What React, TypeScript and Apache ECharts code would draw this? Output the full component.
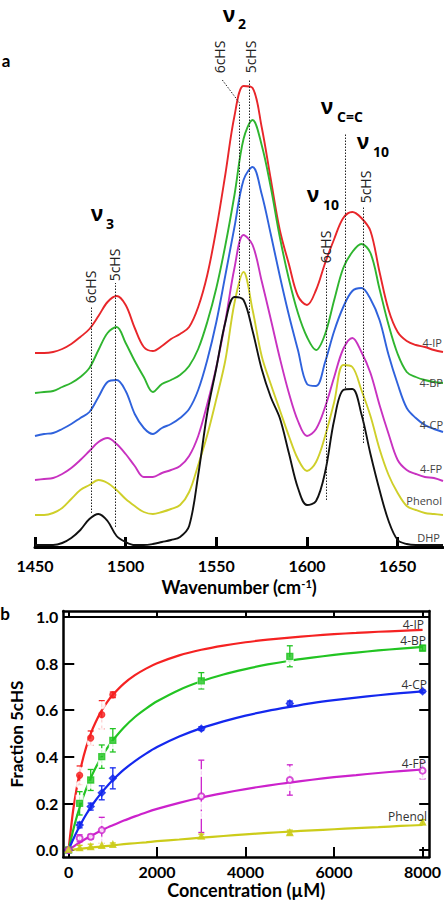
import React, { useEffect, useRef } from 'react';
import * as echarts from 'echarts';

// ---------- Panel a: resonance Raman spectra (offset, arbitrary units) ----------
const wavenumbers = [
  1450, 1455, 1460, 1465, 1470, 1475, 1480, 1485, 1490, 1495,
  1500, 1505, 1510, 1515, 1520, 1525, 1530, 1535, 1540, 1545,
  1550, 1555, 1560, 1565, 1570, 1575, 1580, 1585, 1590, 1595,
  1600, 1605, 1610, 1615, 1620, 1625, 1630, 1635, 1640, 1645,
  1650, 1655, 1660, 1665, 1670, 1675,
];
const spec4IP = [
  194, 194, 195, 198, 203, 210, 218, 231, 245, 251,
  242, 219, 200, 196, 201, 208, 213, 220, 240, 272,
  318, 373, 431, 461, 459, 420, 368, 317, 283, 251,
  242, 257, 284, 308, 329, 335, 329, 316, 275, 237,
  215, 206, 202, 200, 197, 195,
];
const spec4BP = [
  154, 155, 156, 160, 164, 170, 179, 197, 214, 220,
  204, 186, 170, 155, 163, 167, 172, 181, 198, 225,
  259, 302, 352, 408, 427, 402, 360, 310, 268, 234,
  210, 197, 213, 247, 279, 295, 303, 294, 258, 222,
  193, 175, 170, 167, 165, 164,
];
const spec4CP = [
  111, 113, 114, 118, 123, 129, 135, 150, 165, 167,
  156, 133, 119, 113, 119, 123, 129, 138, 157, 187,
  225, 272, 320, 367, 380, 353, 313, 271, 232, 197,
  163, 161, 185, 216, 240, 256, 259, 248, 227, 192,
  163, 139, 129, 122, 118, 115,
];
const spec4FP = [
  67, 68, 69, 73, 79, 87, 96, 105, 109, 103,
  93, 81, 70, 70, 74, 77, 81, 91, 111, 143,
  180, 226, 279, 312, 302, 266, 228, 189, 154, 126,
  111, 118, 140, 170, 198, 209, 195, 174, 142, 113,
  87, 77, 73, 70, 69, 66,
];
const specPhenol = [
  32, 32, 34, 39, 48, 57, 62, 67, 64, 57,
  48, 41, 35, 33, 35, 38, 42, 55, 82, 112,
  148, 187, 244, 275, 237, 191, 163, 137, 111, 88,
  76, 85, 111, 145, 182, 180, 157, 131, 98, 72,
  54, 41, 37, 34, 33, 32,
];
const specDHP = [
  2, 2, 2, 4, 9, 17, 28, 33, 26, 11,
  5, 2, 2, 3, 5, 7, 10, 21, 72, 134,
  179, 225, 250, 247, 216, 178, 150, 129, 94, 59,
  42, 46, 75, 127, 157, 158, 133, 93, 57, 26,
  7, 3, 2, 2, 2, 2,
];
const specNames = ['4-IP', '4-BP', '4-CP', '4-FP', 'Phenol', 'DHP'];
const specColors = ['#e8262a', '#2fb52f', '#2f62dc', '#c832c0', '#cfcf2a', '#111111'];
const wnTicks = [1450, 1500, 1550, 1600, 1650];

// dotted marker lines: [wavenumber, from, to]
const bandLines = [
  [1481, 34, 240],
  [1494, 20, 264],
  [1562.8, 252, 444],
  [1568.2, 234, 467],
  [1610.8, 47, 279],
  [1621.3, 159, 414],
  [1631.2, 104, 340],
];

// ---------- Panel b: titration (fraction 5cHS vs concentration) ----------
const concTicks = [0, 2000, 4000, 6000, 8000];
const fracTicks = [0, 0.2, 0.4, 0.6, 0.8, 1.0];
const fitConc = [0, 100, 200, 300, 400, 500, 600, 750, 900, 1000, 1250, 1500, 1750, 2000, 2500, 3000, 3500, 4000, 4500, 5000, 5500, 6000, 6500, 7000, 7500, 8000];
const fit4IP = [0, 0.165, 0.283, 0.372, 0.442, 0.498, 0.543, 0.598, 0.641, 0.665, 0.713, 0.749, 0.777, 0.8, 0.834, 0.858, 0.876, 0.89, 0.901, 0.91, 0.918, 0.925, 0.93, 0.935, 0.939, 0.943];
const fit4BP = [0, 0.082, 0.152, 0.211, 0.263, 0.308, 0.348, 0.4, 0.444, 0.47, 0.525, 0.57, 0.606, 0.637, 0.686, 0.723, 0.752, 0.775, 0.795, 0.811, 0.824, 0.836, 0.846, 0.855, 0.863, 0.87];
const fit4CP = [0, 0.044, 0.084, 0.12, 0.153, 0.183, 0.21, 0.247, 0.28, 0.3, 0.344, 0.381, 0.413, 0.441, 0.486, 0.522, 0.551, 0.576, 0.596, 0.613, 0.629, 0.642, 0.653, 0.663, 0.672, 0.68];
const fit4FP = [0, 0.013, 0.026, 0.037, 0.049, 0.059, 0.07, 0.084, 0.098, 0.106, 0.126, 0.144, 0.161, 0.176, 0.202, 0.225, 0.244, 0.261, 0.276, 0.289, 0.301, 0.312, 0.321, 0.33, 0.338, 0.345];
const fitPhenol = [0, 0.002, 0.004, 0.006, 0.008, 0.01, 0.012, 0.015, 0.018, 0.02, 0.025, 0.029, 0.033, 0.038, 0.045, 0.053, 0.06, 0.067, 0.073, 0.079, 0.084, 0.089, 0.094, 0.098, 0.103, 0.107];

// [concentration, mean, error]
const pts4IP = [[0, 0, 0.01], [250, 0.32, 0.04], [500, 0.48, 0.03], [750, 0.58, 0.06], [1000, 0.665, 0.012]];
const pts4BP = [[0, 0, 0.01], [250, 0.2, 0.05], [500, 0.3, 0.045], [750, 0.4, 0.05], [1000, 0.47, 0.05], [3000, 0.725, 0.035], [5000, 0.83, 0.045], [8000, 0.865, 0.012]];
const pts4CP = [[0, 0, 0.006], [250, 0.107, 0.012], [500, 0.186, 0.015], [750, 0.245, 0.03], [1000, 0.307, 0.045], [3000, 0.52, 0.008], [5000, 0.628, 0.01], [8000, 0.68, 0.006]];
const pts4FP = [[0, 0, 0.006], [250, 0.05, 0.015], [500, 0.057, 0.01], [750, 0.085, 0.055], [3000, 0.23, 0.155], [5000, 0.3, 0.065], [8000, 0.34, 0.035]];
const ptsPhenol = [[0, 0.003, 0.006], [250, 0.01, 0.01], [500, 0.015, 0.01], [750, 0.02, 0.01], [1000, 0.024, 0.006], [3000, 0.06, 0.008], [5000, 0.075, 0.01], [8000, 0.12, 0.01]];
// individual replicate measurements (open symbols)
const reps4IP = [[250, 0.34], [250, 0.28], [500, 0.46], [750, 0.62], [750, 0.55], [750, 0.53]];
const reps4BP = [[250, 0.22], [500, 0.28], [750, 0.38], [750, 0.42], [1000, 0.45], [3000, 0.71], [5000, 0.81]];
const reps4FP = [[750, 0.12], [750, 0.04], [3000, 0.33], [3000, 0.19], [3000, 0.15], [5000, 0.34], [5000, 0.32], [5000, 0.27], [8000, 0.36], [8000, 0.32]];
const titColors = ['#f52222', '#22c422', '#1428ee', '#cc22cc', '#cccc1a'];

const BOLD = 'Lato';
const SANS = 'Open Sans';

export default function App() {
  const ref = useRef<HTMLDivElement>(null);
  useEffect(() => {
    const chart = echarts.init(ref.current!, null, { renderer: 'svg' });
    const specs = [spec4IP, spec4BP, spec4CP, spec4FP, specPhenol, specDHP];

    const specSeries: any[] = specs.map((s, i) => ({
      type: 'line',
      name: specNames[i],
      xAxisIndex: 0,
      yAxisIndex: 0,
      data: wavenumbers.map((w, j) => [w, s[j]]),
      smooth: 0.35,
      showSymbol: false,
      symbol: 'none',
      lineStyle: { color: specColors[i], width: 1.9 },
      z: 3,
      silent: true,
    }));
    specSeries.push({
      type: 'line',
      xAxisIndex: 0,
      yAxisIndex: 0,
      data: [],
      silent: true,
      markLine: {
        silent: true,
        symbol: 'none',
        label: { show: false },
        lineStyle: { color: '#222', type: [1.5, 1.5], width: 1 },
        data: [
          ...bandLines.map((b) => [{ coord: [b[0], b[1]] }, { coord: [b[0], b[2]] }]),
          [{ coord: [1553.3, 467] }, { coord: [1562.8, 444] }],
        ],
      },
    });

    const errSeries = (pts: number[][], color: string) => ({
      type: 'custom',
      xAxisIndex: 1,
      yAxisIndex: 1,
      data: pts,
      silent: true,
      z: 4,
      renderItem: (params: any, api: any) => {
        const x = api.value(0), y = api.value(1), e = api.value(2);
        const t = api.coord([x, y + e]);
        const b = api.coord([x, y - e]);
        const w = 3;
        const st = { stroke: color, lineWidth: 1.3 };
        return {
          type: 'group',
          children: [
            { type: 'line', shape: { x1: t[0], y1: t[1], x2: b[0], y2: b[1] }, style: st },
            { type: 'line', shape: { x1: t[0] - w, y1: t[1], x2: t[0] + w, y2: t[1] }, style: st },
            { type: 'line', shape: { x1: b[0] - w, y1: b[1], x2: b[0] + w, y2: b[1] }, style: st },
          ],
        };
      },
    });
    const fits = [fit4IP, fit4BP, fit4CP, fit4FP, fitPhenol];
    const fitSeries = fits.map((f, i) => ({
      type: 'line',
      xAxisIndex: 1,
      yAxisIndex: 1,
      data: fitConc.map((c, j) => [c, f[j]]),
      smooth: 0.25,
      showSymbol: false,
      symbol: 'none',
      lineStyle: { color: titColors[i], width: 2.2 },
      silent: true,
      z: 3,
    }));
    const ptsAll = [pts4IP, pts4BP, pts4CP, pts4FP, ptsPhenol];
    const syms = ['circle', 'rect', 'diamond', 'emptyCircle', 'triangle'];
    const sizes = [6, 6, 7, 6, 6];
    const meanSeries = ptsAll.map((p, i) => ({
      type: 'scatter',
      xAxisIndex: 1,
      yAxisIndex: 1,
      data: p.map((d) => [d[0], d[1]]),
      symbol: syms[i],
      symbolSize: sizes[i],
      itemStyle: { color: titColors[i], borderColor: titColors[i], borderWidth: 1.3 },
      silent: true,
      z: 5,
    }));
    const repsAll = [reps4IP, reps4BP, reps4FP];
    const repColors = [titColors[0], titColors[1], titColors[3]];
    const repSyms = ['emptyCircle', 'emptyRect', 'emptyCircle'];
    const repSeries = repsAll.map((r, i) => ({
      type: 'scatter',
      xAxisIndex: 1,
      yAxisIndex: 1,
      data: r,
      symbol: repSyms[i],
      symbolSize: 6,
      itemStyle: { color: '#fff', borderColor: repColors[i], borderWidth: 1.2, opacity: 0.8 },
      silent: true,
      z: 4,
    }));
    const frameSeries = {
      type: 'line',
      xAxisIndex: 1,
      yAxisIndex: 1,
      data: [],
      silent: true,
      markLine: {
        silent: true,
        symbol: 'none',
        label: { show: false },
        lineStyle: { color: '#000', type: 'solid', width: 2 },
        data: [{ yAxis: 1.0 }],
      },
    };

    const txt = (text: string, x: number, y: number, size: number, opts: any = {}) => ({
      type: 'text',
      x,
      y,
      rotation: opts.rotation || 0,
      silent: true,
      z: 10,
      style: {
        text,
        fill: opts.color || '#000',
        fontSize: size,
        fontWeight: opts.weight || 'normal',
        fontFamily: opts.family || SANS,
        textAlign: opts.align || 'center',
        textVerticalAlign: 'middle',
        align: opts.align || 'center',
        verticalAlign: 'middle',
      },
    });
    const rot = { rotation: Math.PI / 2, color: '#222' };
    const nu = { weight: 'bold', family: SANS };
    const lab = { color: '#444', align: 'right' };
    const lab2 = { color: '#333', align: 'right' };

    const graphics = [
      txt('a', 6, 60, 17, { weight: 'bold', family: BOLD }),
      txt('b', 5, 613, 17, { weight: 'bold', family: BOLD }),
      // band assignment labels
      txt('6cHS', 90, 287, 14, rot),
      txt('5cHS', 114, 265, 14, rot),
      txt('6cHS', 219, 57, 14, rot),
      txt('5cHS', 250, 57, 14, rot),
      txt('6cHS', 325, 247, 14, rot),
      txt('5cHS', 365, 187, 14, rot),
      // greek labels
      txt('ν', 97, 213, 21, nu), txt('3', 110, 223, 14, nu),
      txt('ν', 229, 14, 21, nu), txt('2', 242, 23, 14, nu),
      txt('ν', 327, 106, 21, nu), txt('C=C', 350, 116, 14, nu),
      txt('ν', 363, 141, 21, nu), txt('10', 381, 151, 14, nu),
      txt('ν', 313, 194, 21, nu), txt('10', 331, 204, 14, nu),
      // spectra names
      txt('4-IP', 442, 342, 11, lab),
      txt('4-BP', 443, 382, 11, lab),
      txt('4-CP', 443, 424, 11, lab),
      txt('4-FP', 442, 468, 11, lab),
      txt('Phenol', 442, 500, 11, lab),
      txt('DHP', 440, 537, 11, lab),
      // titration names
      txt('4-IP', 424, 624, 12, lab2),
      txt('4-BP', 426, 640, 12, lab2),
      txt('4-CP', 427, 684, 12, lab2),
      txt('4-FP', 426, 763, 12, lab2),
      txt('Phenol', 427, 816, 12, lab2),
    ];

    const boldLabel = { fontFamily: BOLD, fontWeight: 'bold', fontSize: 16, color: '#000' };

    chart.setOption({
      animation: false,
      backgroundColor: '#fff',
      grid: [
        { left: 35, top: 40, width: 408, height: 507 },
        { left: 56, top: 611, width: 385.5, height: 246 },
      ],
      xAxis: [
        {
          type: 'value', gridIndex: 0, min: 1450, max: 1675,
          axisLine: { show: true, onZero: false, lineStyle: { color: '#000', width: 3 } },
          axisTick: { show: true, inside: true, length: 10, customValues: wnTicks, lineStyle: { color: '#000', width: 3 } },
          axisLabel: { ...boldLabel, margin: 10, customValues: wnTicks, formatter: (v: number) => String(v) },
          splitLine: { show: false },
          name: 'Wavenumber (cm{sup|-1})',
          nameLocation: 'middle',
          nameGap: 29,
          nameTextStyle: {
            fontFamily: BOLD, fontWeight: 'bold', fontSize: 18, color: '#000',
            rich: { sup: { fontFamily: BOLD, fontWeight: 'bold', fontSize: 11, color: '#000', verticalAlign: 'top', padding: [0, 0, 8, 0] } },
          },
        },
        {
          type: 'value', gridIndex: 1, min: -120, max: 8150, position: 'bottom',
          axisLine: { show: true, onZero: false, lineStyle: { color: '#000', width: 2.5 } },
          axisTick: { show: true, inside: true, length: 10, customValues: concTicks, lineStyle: { color: '#000', width: 2 } },
          axisLabel: { ...boldLabel, margin: 6, customValues: concTicks, formatter: (v: number) => String(v) },
          splitLine: { show: false },
          name: 'Concentration (µM)',
          nameLocation: 'middle',
          nameGap: 24,
          nameTextStyle: { fontFamily: BOLD, fontWeight: 'bold', fontSize: 18, color: '#000' },
        },
        {
          type: 'value', gridIndex: 1, min: -120, max: 8150, position: 'top',
          axisLine: { show: true, onZero: false, lineStyle: { color: '#000', width: 2.5 } },
          axisTick: { show: true, inside: true, length: 6, customValues: concTicks, lineStyle: { color: '#000', width: 2 } },
          axisLabel: { show: false },
          splitLine: { show: false },
        },
      ],
      yAxis: [
        { type: 'value', gridIndex: 0, min: 0, max: 507, show: false },
        {
          type: 'value', gridIndex: 1, min: -0.03, max: 1.024, position: 'left',
          axisLine: { show: true, onZero: false, lineStyle: { color: '#000', width: 2.5 } },
          axisTick: { show: true, inside: true, length: 11, customValues: fracTicks, lineStyle: { color: '#000', width: 2 } },
          axisLabel: { ...boldLabel, margin: 5, customValues: fracTicks, formatter: (v: number) => v.toFixed(1) },
          splitLine: { show: false },
          name: 'Fraction 5cHS',
          nameLocation: 'middle',
          nameGap: 38,
          nameTextStyle: { fontFamily: BOLD, fontWeight: 'bold', fontSize: 17, color: '#000' },
        },
        {
          type: 'value', gridIndex: 1, min: -0.03, max: 1.024, position: 'right',
          axisLine: { show: true, onZero: false, lineStyle: { color: '#000', width: 2.5 } },
          axisTick: { show: true, inside: true, length: 10, customValues: fracTicks, lineStyle: { color: '#000', width: 2 } },
          axisLabel: { show: false },
          splitLine: { show: false },
        },
      ],
      series: [
        ...specSeries,
        frameSeries,
        ...fitSeries,
        ...ptsAll.map((p, i) => errSeries(p, titColors[i])),
        ...repSeries,
        ...meanSeries,
      ],
      graphic: graphics,
    });
    return () => chart.dispose();
  }, []);
  return (
    <div
      ref={ref}
      style={{ position: 'fixed', left: 0, top: 0, width: 444, height: 902, background: '#fff' }}
    />
  );
}
